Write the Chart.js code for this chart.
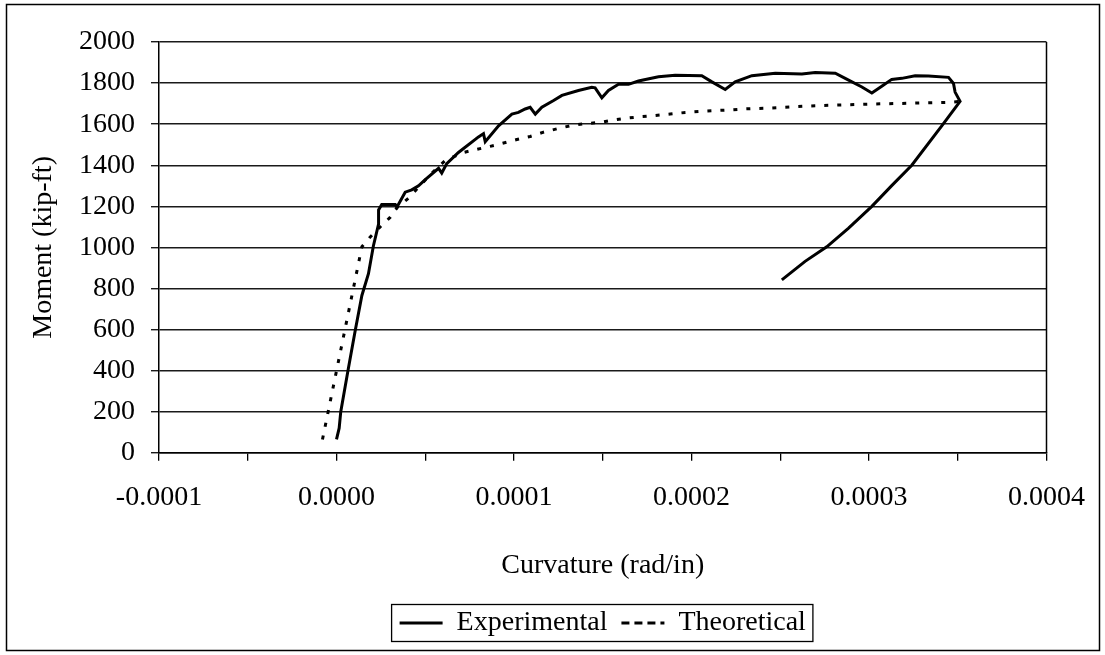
<!DOCTYPE html>
<html>
<head>
<meta charset="utf-8">
<title>Moment vs Curvature</title>
<script src="https://cdn.jsdelivr.net/npm/chart.js@4/dist/chart.umd.min.js"></script>
<style>
  html, body { margin: 0; padding: 0; background: #fff; }
  #wrap { position: relative; width: 1105px; height: 655px; }
</style>
</head>
<body>
<div id="wrap"><canvas id="myChart"></canvas></div>
<script>
// --- Data (curvature in rad/in, moment in kip-ft) ---
const expCurvature = [
  0.0e-6, 1.5e-6, 2.4e-6, 6.4e-6, 10.5e-6, 14.3e-6, 18.0e-6, 20.8e-6, 23.7e-6, 23.7e-6,
  25.5e-6, 33.1e-6, 34.0e-6, 38.7e-6, 42.4e-6, 46.2e-6, 50.0e-6, 57.5e-6, 59.3e-6, 62.1e-6,
  68.7e-6, 80.0e-6, 82.8e-6, 83.8e-6, 91.3e-6, 98.8e-6, 102.5e-6, 106.3e-6, 109.1e-6, 112.0e-6,
  115.7e-6, 122.3e-6, 127.0e-6, 136.3e-6, 143.8e-6, 145.7e-6, 149.5e-6, 153.2e-6, 158.9e-6, 164.5e-6,
  170.1e-6, 181.4e-6, 190.8e-6, 205.8e-6, 211.5e-6, 219.0e-6, 224.6e-6, 234.0e-6, 247.2e-6, 262.2e-6,
  269.7e-6, 281.0e-6, 286.6e-6, 296.0e-6, 301.6e-6, 307.2e-6, 312.8e-6, 318.5e-6, 326.0e-6, 333.5e-6,
  344.8e-6, 347.6e-6, 348.5e-6, 351.3e-6, 341.0e-6, 324.1e-6, 312.8e-6, 301.6e-6, 288.5e-6, 276.2e-6,
  264.0e-6, 250.9e-6
];
const expMoment = [
  65, 120, 200, 397, 593, 766, 872, 1008, 1114, 1182,
  1209, 1209, 1196, 1269, 1280, 1300, 1330, 1385, 1362, 1408,
  1462, 1538, 1554, 1515, 1592, 1649, 1657, 1674, 1682, 1649,
  1682, 1715, 1740, 1764, 1780, 1777, 1728, 1764, 1794, 1794,
  1810, 1831, 1838, 1836, 1806, 1769, 1806, 1836, 1848, 1844,
  1851, 1848, 1823, 1781, 1752, 1785, 1818, 1823, 1836, 1835,
  1828, 1798, 1756, 1711, 1592, 1400, 1301, 1200, 1094, 1003,
  932, 842
];

const theoCurvature = [
  -7.9e-6, 14.3e-6, 19.0e-6, 24.6e-6, 30.2e-6, 34.0e-6, 40.6e-6, 46.2e-6, 53.7e-6, 61.2e-6,
  71.5e-6, 79.0e-6, 86.6e-6, 94.1e-6, 101.6e-6, 109.1e-6, 116.6e-6, 124.1e-6, 131.7e-6, 140.1e-6,
  148.6e-6, 156.1e-6, 164.5e-6, 172.0e-6, 179.6e-6, 188.0e-6, 196.5e-6, 205.0e-6, 213.4e-6, 220.9e-6,
  229.3e-6, 245.3e-6, 269.7e-6, 307.2e-6, 344.8e-6, 351.3e-6
];
const theoMoment = [
  65, 1003, 1051, 1100, 1146, 1192, 1240, 1293, 1362, 1423,
  1462, 1477, 1492, 1508, 1525, 1540, 1561, 1577, 1592, 1603,
  1608, 1620, 1630, 1637, 1642, 1649, 1657, 1662, 1666, 1669,
  1674, 1679, 1690, 1699, 1706, 1711
];

const seriesNames = ['Experimental', 'Theoretical'];
const xTitle = 'Curvature (rad/in)';
const yTitle = 'Moment (kip-ft)';

// --- Helpers ---
const toPoints = (xs, ys) => xs.map((x, i) => ({ x: x, y: ys[i] }));
const serif = "'Times New Roman', 'Liberation Serif', serif";
const FONT = { family: serif, size: 28 };

// outer frame, plot right edge and legend box
const framePlugin = {
  id: 'frames',
  beforeDraw(chart) {
    const c = chart.ctx;
    c.save();
    c.fillStyle = '#fff';
    c.fillRect(0, 0, chart.width, chart.height);
    c.strokeStyle = '#000';
    c.lineWidth = 1.5;
    c.strokeRect(6.5, 4.5, 1093, 646);
    c.restore();
  },
  afterDraw(chart) {
    const c = chart.ctx;
    const a = chart.chartArea;
    c.save();
    c.strokeStyle = '#000';
    c.lineWidth = 1.5;
    c.beginPath();
    c.moveTo(a.right, a.top);
    c.lineTo(a.right, a.bottom);
    c.stroke();

    const boxes = chart.legend.legendHitBoxes;
    if (boxes && boxes.length) {
      const first = boxes[0];
      const last = boxes[boxes.length - 1];
      const mid = first.top + first.height / 2;
      const left = first.left - 8;
      const right = last.left + last.width + 7;
      c.lineWidth = 1.3;
      c.strokeRect(left, mid - 18.5, right - left, 37);
    }
    c.restore();
  }
};

const ctx = document.getElementById('myChart').getContext('2d');
const chart = new Chart(ctx, {
  type: 'scatter',
  data: {
    datasets: [{
      label: seriesNames[0],
      data: toPoints(expCurvature, expMoment),
      showLine: true,
      borderColor: '#000',
      backgroundColor: '#000',
      borderWidth: 3,
      pointRadius: 0,
      tension: 0
    }, {
      label: seriesNames[1],
      data: toPoints(theoCurvature, theoMoment),
      showLine: true,
      borderColor: '#000',
      backgroundColor: '#000',
      borderWidth: 3,
      borderDash: [4, 9],
      pointRadius: 0,
      tension: 0
    }]
  },
  options: {
    responsive: true,
    maintainAspectRatio: false,
    animation: false,
    layout: { padding: { left: 23, top: 42, right: 57, bottom: 8 } },
    plugins: {
      tooltip: { enabled: false },
      legend: {
        position: 'bottom',
        fullSize: false,
        labels: {
          color: '#000',
          font: FONT,
          boxWidth: 43,
          boxHeight: 0,
          padding: 14
        }
      }
    },
    scales: {
      x: {
        type: 'linear',
        min: -0.0001,
        max: 0.0004,
        border: { color: '#000', width: 1.5 },
        grid: { drawOnChartArea: false, drawTicks: true, tickLength: 8, color: '#000', lineWidth: 1.3 },
        ticks: {
          stepSize: 0.00005,
          autoSkip: false,
          maxRotation: 0,
          minRotation: 0,
          padding: 20,
          color: '#000',
          font: FONT,
          callback: (v) => {
            const k = Math.round(v / 0.00005);
            if (k % 2 !== 0) return '';
            const r = k * 0.00005;
            return (Math.abs(r) < 1e-12 ? 0 : r).toFixed(4);
          }
        },
        title: { display: true, text: xTitle, color: '#000', font: FONT, padding: { top: 14, bottom: 13 } }
      },
      y: {
        min: 0,
        max: 2000,
        afterFit: (scale) => { scale.width = 136; },
        border: { color: '#000', width: 1.5 },
        grid: { color: '#1a1a1a', lineWidth: 1.4, tickLength: 8 },
        ticks: {
          stepSize: 200,
          padding: 16,
          color: '#000',
          font: FONT,
          callback: (v) => String(v)
        },
        title: { display: true, text: yTitle, color: '#000', font: FONT, padding: { top: 4, bottom: 4 } }
      }
    }
  },
  plugins: [framePlugin]
});
</script>
</body>
</html>
